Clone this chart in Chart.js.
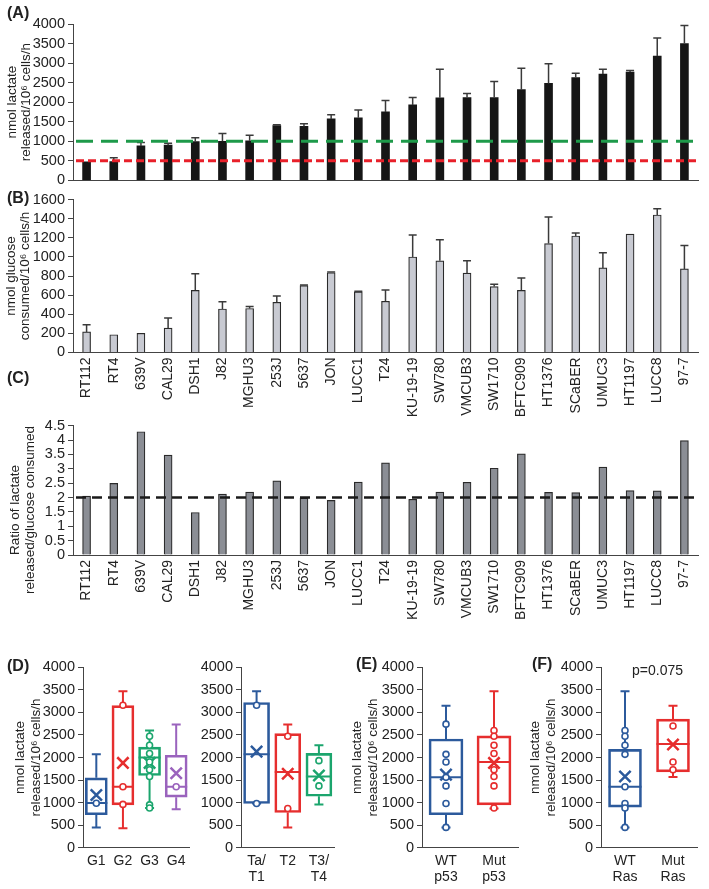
<!DOCTYPE html>
<html>
<head>
<meta charset="utf-8">
<script src="https://cdn.jsdelivr.net/npm/chart.js@4.4.1/dist/chart.umd.min.js"></script>
<style>
  body { margin:0; background:#fff; width:709px; height:889px; position:relative; overflow:hidden; font-family:'Liberation Sans', Arial, sans-serif; }
  canvas { position:absolute; }
  .tag { position:absolute; font-weight:bold; font-size:16px; color:#222; }
  .pval { position:absolute; font-size:14px; color:#222; }
  .ytit { position:absolute; width:200px; text-align:center; white-space:nowrap; font-size:13.5px; line-height:15px; color:#222; transform:rotate(-90deg); }
</style>
</head>
<body>
<canvas id="graficoA" width="709" height="192" style="left:0;top:0"></canvas>
<canvas id="graficoB" width="709" height="240" style="left:0;top:188px"></canvas>
<canvas id="graficoC" width="709" height="215" style="left:0;top:412px"></canvas>
<canvas id="graficoD1" width="200" height="244" style="left:0;top:645px"></canvas>
<canvas id="graficoD2" width="150" height="244" style="left:195px;top:645px"></canvas>
<canvas id="graficoE" width="185" height="244" style="left:345px;top:645px"></canvas>
<canvas id="graficoF" width="189" height="244" style="left:520px;top:645px"></canvas>
<div class="tag" style="left:7px;top:4px">(A)</div>
<div class="tag" style="left:7px;top:189px">(B)</div>
<div class="tag" style="left:7px;top:369px">(C)</div>
<div class="tag" style="left:7px;top:657px">(D)</div>
<div class="tag" style="left:356px;top:655px">(E)</div>
<div class="tag" style="left:532px;top:655px">(F)</div>
<div class="pval" style="left:632px;top:662px">p=0.075</div>
<div class="ytit" style="left:-78px;top:495px">Ratio of lactate<br>released/glucose consumed</div>
<script>
const linhagens = ['RT112','RT4','639V','CAL29','DSH1','J82','MGHU3','253J','5637','JON','LUCC1','T24','KU-19-19','SW780','VMCUB3','SW1710','BFTC909','HT1376','SCaBER','UMUC3','HT1197','LUCC8','97-7'];

// (A) lactato liberado
const lactato     = [470, 480, 880, 900, 990, 1000, 1010, 1400, 1380, 1570, 1600, 1750, 1930, 2110, 2120, 2120, 2320, 2480, 2630, 2720, 2770, 3180, 3500];
const lactatoErro = [null, 580, 970, 950, 1090, 1200, 1150, 1420, 1450, 1680, 1800, 2040, 2120, 2840, 2220, 2530, 2870, 2980, 2740, 2840, 2810, 3640, 3960];
const limiteVerde = 1000;
const limiteVermelho = 500;

// (B) glicose consumida
const glicose     = [215, 185, 200, 255, 650, 455, 460, 525, 700, 835, 635, 535, 1000, 960, 830, 690, 650, 1140, 1220, 885, 1240, 1440, 875];
const glicoseErro = [290, null, null, 360, 825, 530, 480, 590, 707, 843, 642, 655, 1230, 1180, 960, 713, 780, 1420, 1250, 1045, null, 1505, 1120];

// (C) razao lactato/glicose
const razao = [2.05, 2.49, 4.29, 3.48, 1.48, 2.12, 2.19, 2.58, 1.98, 1.90, 2.54, 3.21, 1.94, 2.19, 2.53, 3.02, 3.52, 2.18, 2.17, 3.06, 2.24, 2.23, 3.98];
const limiteRazao = 2;

const azul = '#2c5a9c', vermelho = '#e62e2e', verde = '#1ba56d', roxo = '#9a63bd';

// (D) grupos
const gruposD = ['G1', 'G2', 'G3', 'G4'];
const minD  = [450, 430, 880, 850];
const q1D   = [730, 950, 1600, 1120];
const medD  = [990, 1350, 2000, 1350];
const q3D   = [1550, 3150, 2230, 2050];
const maxD  = [2070, 3470, 2600, 2730];
const mediaD = [1170, 1880, 1880, 1650];
const pontosD = [[985], [3160, 1350, 960], [2470, 2270, 2090, 1900, 1730, 1580, 950, 880], [1350]];

// (D) estadio
const estadios = ['Ta/\nT1', 'T2', 'T3/\nT4'];
const minT  = [980, 450, 960];
const q1T   = [980, 780, 1140];
const medT  = [2070, 1680, 1580];
const q3T   = [3220, 2530, 2090];
const maxT  = [3470, 2730, 2270];
const mediaT = [2130, 1640, 1600];
const pontosT = [[3160, 980], [2470, 870], [1930, 1370]];

// (E) p53
const gruposP53 = ['WT\np53', 'Mut\np53'];
const minP53  = [450, 870];
const q1P53   = [730, 950];
const medP53  = [1560, 1900];
const q3P53   = [2410, 2480];
const maxP53  = [3150, 3470];
const mediaP53 = [1620, 1880];
const pontosP53 = [[2740, 2070, 1900, 1560, 1370, 980, 450], [2600, 2470, 2270, 2090, 1730, 1580, 1370, 880]];

// (F) Ras
const gruposRas = ['WT\nRas', 'Mut\nRas'];
const minRas  = [450, 1570];
const q1Ras   = [900, 1680];
const medRas  = [1350, 2300];
const q3Ras   = [2180, 2850];
const maxRas  = [3470, 3150];
const mediaRas = [1580, 2290];
const pontosRas = [[2600, 2470, 2270, 2070, 1350, 980, 880, 450], [2700, 1900, 1730]];

const fonte = "'Liberation Sans', Arial, sans-serif";
const tituloLactato = ['nmol lactate', 'released/10\u2076 cells/h'];

Chart.defaults.animation = false;
Chart.defaults.plugins.legend.display = false;
Chart.defaults.plugins.tooltip.enabled = false;

const barrasErro = {
  id: 'barrasErro',
  afterDatasetsDraw(chart, args, o) {
    if (!o.valores) return;
    const meta = chart.getDatasetMeta(0);
    const y = chart.scales.y, ctx = chart.ctx;
    ctx.save();
    ctx.strokeStyle = '#3a3a3a';
    ctx.lineWidth = 1.5;
    meta.data.forEach((bar, i) => {
      const topo = o.valores[i];
      if (topo == null) return;
      const yt = y.getPixelForValue(topo);
      ctx.beginPath();
      ctx.moveTo(bar.x, bar.y); ctx.lineTo(bar.x, yt);
      ctx.moveTo(bar.x - 4, yt); ctx.lineTo(bar.x + 4, yt);
      ctx.stroke();
    });
    ctx.restore();
  }
};

const linhasRef = {
  id: 'linhasRef',
  afterDatasetsDraw(chart, args, o) {
    if (!o.linhas) return;
    const {ctx, chartArea} = chart;
    const y = chart.scales.y;
    ctx.save();
    o.linhas.forEach(l => {
      const py = y.getPixelForValue(l.valor);
      ctx.strokeStyle = l.cor;
      ctx.lineWidth = l.largura;
      ctx.setLineDash(l.dash);
      ctx.beginPath();
      ctx.moveTo(chartArea.left + 3, py);
      ctx.lineTo(chartArea.right + 2, py);
      ctx.stroke();
    });
    ctx.restore();
  }
};

const bigodes = {
  id: 'bigodes',
  beforeDatasetsDraw(chart, args, o) {
    if (!o.minimo) return;
    const meta = chart.getDatasetMeta(0);
    const y = chart.scales.y, ctx = chart.ctx;
    ctx.save();
    ctx.lineWidth = 2;
    meta.data.forEach((el, i) => {
      const x = el.x, w = el.width, c = o.cap / 2;
      const yMax = y.getPixelForValue(o.maximo[i]);
      const yQ3 = y.getPixelForValue(o.q3[i]);
      const yQ1 = y.getPixelForValue(o.q1[i]);
      const yMin = y.getPixelForValue(o.minimo[i]);
      const yMed = y.getPixelForValue(o.mediana[i]);
      ctx.strokeStyle = o.cores[i];
      ctx.beginPath();
      ctx.moveTo(x, yQ3); ctx.lineTo(x, yMax);
      ctx.moveTo(x - c, yMax); ctx.lineTo(x + c, yMax);
      ctx.moveTo(x, yQ1); ctx.lineTo(x, yMin);
      ctx.moveTo(x - c, yMin); ctx.lineTo(x + c, yMin);
      ctx.moveTo(x - w / 2, yMed); ctx.lineTo(x + w / 2, yMed);
      ctx.stroke();
    });
    ctx.restore();
  }
};

function eixoY(max, passo, largura, titulo, padTitulo, altLinha) {
  return {
    min: 0, max: max,
    ticks: { stepSize: passo, autoSkip: false, font: { family: fonte, size: 14.5 }, color: '#222', padding: 3, callback: v => String(v) },
    grid: { drawOnChartArea: false, drawTicks: true, tickLength: 5, color: '#444' },
    border: { color: '#444', width: 1 },
    title: titulo ? { display: true, text: titulo, color: '#222', font: { family: fonte, size: 13.5, lineHeight: altLinha }, padding: { top: padTitulo, bottom: 0 } } : { display: false },
    afterFit(s) { s.width = largura; }
  };
}

function eixoX(altura, rotulos, giro, tamanho, pad) {
  return {
    offset: true,
    grid: { display: false, drawTicks: false },
    border: { display: true, color: '#444', width: 1 },
    ticks: rotulos ? {
      autoSkip: false, maxRotation: giro, minRotation: giro,
      font: { family: fonte, size: tamanho, lineHeight: 1.15 }, color: '#222', padding: pad,
      callback(v) { return this.getLabelForValue(v).split('\n'); }
    } : { display: false },
    afterFit(s) { s.height = altura; }
  };
}

// (A)
new Chart(document.getElementById('graficoA'), {
  type: 'bar',
  data: { labels: linhagens, datasets: [{ data: lactato, backgroundColor: '#161616', barThickness: 8 }] },
  options: {
    responsive: false, devicePixelRatio: 1,
    layout: { padding: { left: 0, top: 24, right: 11, bottom: 0 } },
    scales: { x: eixoX(9, false), y: eixoY(4000, 500, 73, tituloLactato, 4.5, 1.1) },
    plugins: {
      barrasErro: { valores: lactatoErro },
      linhasRef: { linhas: [
        { valor: limiteVerde, cor: '#1e9a4a', dash: [17, 8], largura: 3 },
        { valor: limiteVermelho, cor: '#e8202a', dash: [8, 4], largura: 3 }
      ] }
    }
  },
  plugins: [barrasErro, linhasRef]
});

// (B)
new Chart(document.getElementById('graficoB'), {
  type: 'bar',
  data: { labels: linhagens, datasets: [{ data: glicose, backgroundColor: '#c8cad2', borderColor: '#2a2a2a', borderWidth: 1.2, barThickness: 8 }] },
  options: {
    responsive: false, devicePixelRatio: 1,
    layout: { padding: { left: 0, top: 8, right: 11, bottom: 0 } },
    scales: { x: eixoX(75.6, true, 90, 14, 5), y: eixoY(1600, 200, 73, ['nmol glucose', 'consumed/10\u2076 cells/h'], 3.5, 1.1) },
    plugins: { barrasErro: { valores: glicoseErro } }
  },
  plugins: [barrasErro]
});

// (C) - titulo do eixo em HTML rotacionado
new Chart(document.getElementById('graficoC'), {
  type: 'bar',
  data: { labels: linhagens, datasets: [{ data: razao, backgroundColor: '#8b8e95', borderColor: '#2a2a2a', borderWidth: 1.2, barThickness: 8 }] },
  options: {
    responsive: false, devicePixelRatio: 1,
    layout: { padding: { left: 0, top: 13.7, right: 11, bottom: 0 } },
    scales: { x: eixoX(72, true, 90, 14, 5), y: eixoY(4.5, 0.5, 73, null, 0, 1.1) },
    plugins: { linhasRef: { linhas: [{ valor: limiteRazao, cor: '#1a1a1a', dash: [10, 6], largura: 2.5 }] } }
  },
  plugins: [linhasRef]
});

// box plots (D), (E), (F)
function graficoCaixa(id, rotulos, cores, minimo, q1, mediana, q3, maximo, media, pontos, larguraCaixa, yW, padR, titulo, padTitulo) {
  const dadosPontos = [];
  pontos.forEach((lista, i) => lista.forEach(v => dadosPontos.push({ x: rotulos[i], y: v })));
  return new Chart(document.getElementById(id), {
    type: 'bar',
    data: {
      labels: rotulos,
      datasets: [
        { type: 'bar', order: 2, data: q1.map((v, i) => [v, q3[i]]), backgroundColor: 'rgba(255,255,255,0)', borderColor: cores, borderWidth: 2, borderSkipped: false, barThickness: larguraCaixa },
        { type: 'line', order: 1, showLine: false, data: media, pointStyle: 'crossRot', pointRadius: 8, pointBorderWidth: 2.5, pointBorderColor: cores, pointBackgroundColor: cores },
        { type: 'line', order: 0, showLine: false, data: dadosPontos, pointStyle: 'circle', pointRadius: 3, pointBorderWidth: 1.6,
          pointBackgroundColor: '#fff', pointBorderColor: ctx => cores[ctx.raw ? rotulos.indexOf(ctx.raw.x) : 0] }
      ]
    },
    options: {
      responsive: false, devicePixelRatio: 1,
      layout: { padding: { left: 0, top: 22.3, right: padR, bottom: 0 } },
      scales: { x: eixoX(41.3, true, 0, 14, 5), y: eixoY(4000, 500, yW, titulo, padTitulo, 1.2) },
      plugins: { bigodes: { minimo, q1, mediana, q3, maximo, cores, cap: 9 } }
    },
    plugins: [bigodes]
  });
}

graficoCaixa('graficoD1', gruposD, [azul, vermelho, verde, roxo], minD, q1D, medD, q3D, maxD, mediaD, pontosD, 22, 83, 8, tituloLactato, 12);
graficoCaixa('graficoD2', estadios, [azul, vermelho, verde], minT, q1T, medT, q3T, maxT, mediaT, pontosT, 26, 46, 8, null, 0);
graficoCaixa('graficoE', gruposP53, [azul, vermelho], minP53, q1P53, medP53, q3P53, maxP53, mediaP53, pontosP53, 34, 77, 12, tituloLactato, 4);
graficoCaixa('graficoF', gruposRas, [azul, vermelho], minRas, q1Ras, medRas, q3Ras, maxRas, mediaRas, pontosRas, 33, 81, 12, tituloLactato, 7);
</script>
</body>
</html>
